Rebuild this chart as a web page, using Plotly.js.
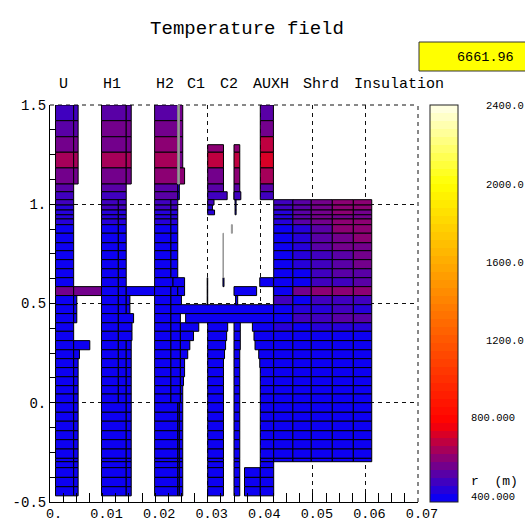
<!DOCTYPE html>
<html><head><meta charset="utf-8">
<script src="https://cdn.plot.ly/plotly-3.0.1.min.js"></script>
<style>html,body{margin:0;padding:0;background:#fff}#chart{width:525px;height:524px}</style>
</head><body><div id="chart"></div>
<script>
// row edges of the mesh, metres (top to bottom)
const rowEdges=[1.5,1.421,1.34,1.262,1.183,1.102,1.063,1.023,.996,.971,.947,.926,.897,.854,.806,.766,.721,.675,.63,.585,.54,.494,.449,.403,.36,.313,.267,.222,.177,.131,.086,.044,0,-.048,-.093,-.141,-.186,-.233,-.28,-.297,-.327,-.376,-.423,-.469];
const uTop=[494,557,596,650,596,541,510,486,478,463,455,440];
const h1Top=[533,565,596,643,596,541,518,494,486,471,463,440];
const h2Top=[557,580,604,650,604,557,525,490,480,470,460,440];
const auxTop=[541,573,682,730,650,557,494];
const c1Top=[700,595,540,510,490,460,440];
const c2Top=[680,600,541,510];
const ins1=[494,486,478,471,455,400,400,400,400,400,400,400,431,510,400,431,463,400,400,400];
const ins2=[557,549,541,533,525,478,471,463,455,447,439,431,588,439,447,486,400,400];
const ins3=[596,588,580,573,573,557,557,533,518,510,502,486,604,486,478,518,447,400];
const ins4=[612,604,604,596,604,612,588,573,557,541,533,510,625,510,494,533,455,400];
const ins5=[604,604,596,596,604,604,604,596,580,565,557,533,615,494,478,525,455,424];
const insX=[.04255,.0462,.0497,.0537,.0577,.0612];
const topLabels=["U","H1","H2","C1","C2","AUXH","Shrd","Insulation"];
const topLabelX=[.00257,.0117,.02196,.02785,.03413,.0421,.0516,.0663];
const scaleVals=[2400,2000,1600,1200,800,400];
const scaleText=["2400.0","2000.0","1600.0","1200.0","800.000","400.000"];
const xTicks=[0,.01,.02,.03,.04,.05,.06,.07];
const xTickText=["0.","0.01","0.02","0.03","0.04","0.05","0.06","0.07"];
const yTicks=[-.5,0,.5,1,1.5];
const yTickText=["-0.5","0.","0.5","1.","1.5"];

const X0=[],X1=[],Y0=[],Y1=[],T=[];
function cell(x0,x1,yTop,yBot,t){X0.push(x0);X1.push(x1);Y0.push(yBot);Y1.push(yTop);T.push(t);}
function band(x0,x1,first,temps){temps.forEach((t,i)=>cell(x0,x1,rowEdges[first+i],rowEdges[first+i+1],t));}
function span(x0,x1,first,last,t){for(let r=first;r<=last;r++)cell(x0,x1,rowEdges[r],rowEdges[r+1],t);}

// U
band(.00105,.0045,0,uTop); span(.00105,.0045,12,18,400); span(.00105,.0045,19,19,570); span(.00105,.0045,20,42,400);
band(.0045,.00535,0,uTop.slice(0,5));
span(.0045,.0051,20,22,400); span(.0045,.00757,25,25,400); span(.0045,.0056,26,26,400); span(.0045,.00535,27,42,400);
span(.0045,.0098,19,19,565);
// H1
band(.0098,.0145,0,h1Top.slice(0,7));
band(.0098,.013,7,h1Top.slice(7)); band(.013,.0145,7,h1Top.slice(7));
span(.0098,.013,12,18,400); span(.013,.0145,12,18,400);
span(.0098,.013,19,19,431); span(.013,.0145,19,19,431); span(.0145,.0199,19,19,431);
band(.0145,.01545,0,h1Top.slice(0,5));
span(.0098,.013,20,31,400);
span(.013,.0145,20,21,400); span(.0145,.0152,20,21,400); span(.013,.0159,22,22,400);
span(.013,.0156,23,24,400); span(.013,.0145,25,31,400); span(.0145,.01545,25,31,400);
span(.0098,.0145,32,42,400); span(.0145,.01545,32,42,400);
// H2
band(.0199,.0243,0,h2Top.slice(0,7));
band(.0199,.023,7,h2Top.slice(7)); band(.023,.0243,7,h2Top.slice(7));
span(.0199,.023,12,17,400); span(.023,.0243,12,17,400);
span(.0246,.02525,0,3,596); span(.0246,.0256,4,4,604); span(.0243,.0246,5,6,400);
span(.0199,.0234,18,18,400); span(.0234,.0256,18,18,400);
span(.0199,.023,19,20,400); span(.023,.0243,19,19,400); span(.0243,.0256,19,19,400); span(.023,.025,20,20,400);
span(.0199,.023,21,31,400); span(.023,.0248,22,31,400);
span(.0248,.0283,23,23,400); span(.0248,.0273,24,24,400); span(.0248,.0266,25,25,400); span(.0248,.0262,26,26,400);
span(.0248,.0256,27,28,400); span(.0248,.0254,29,29,400); span(.0248,.02525,30,31,400);
span(.0199,.0243,32,42,400); span(.0243,.0246,32,42,400); span(.0246,.02525,32,42,400);
span(.023,.04255,21,21,400); span(.0258,.04255,22,22,400);
// C1
cell(.03,.033,1.3,1.262,600); band(.03,.033,3,c1Top.slice(0,3)); span(.03,.0337,6,6,510);
span(.03,.0312,7,7,490); span(.03,.0309,8,8,460); span(.03,.0313,9,9,440);
span(.03,.0338,23,23,400); span(.03,.0336,24,24,400); span(.03,.0334,25,25,400); span(.03,.0332,26,26,400); span(.03,.033,27,42,400);
span(.0299,.03,18,20,400); span(.0329,.0331,18,18,400);
// C2
cell(.035,.0361,1.3,1.262,600); band(.035,.0361,3,c2Top); span(.035,.0363,6,6,510);
span(.0352,.0354,7,9,400); span(.035,.0393,19,19,431); span(.0353,.0357,20,20,400);
span(.035,.0362,23,25,400); span(.035,.0361,26,42,400);
// AUXH
band(.04,.0425,0,auxTop); span(.0399,.0425,18,18,431); span(.0425,.04255,19,20,400);
span(.0385,.04255,23,23,400); span(.0388,.04255,24,24,400); span(.039,.04255,25,25,400); span(.0397,.04255,26,26,400);
span(.0399,.04255,27,27,400); span(.04,.04255,28,39,400);
span(.037,.04,40,42,400); span(.04,.04255,40,42,400);
// Insulation
[ins1,ins2,ins3,ins4,ins5].forEach((c,i)=>{band(insX[i],insX[i+1],7,c); span(insX[i],insX[i+1],7+c.length,38,400);});

// thin grey mesh pieces
const greyX0=[.0243,.0329,.0345], greyX1=[.0246,.033,.0347], greyTop=[1.5,.854,.897], greyBot=[1.102,.63,.854];

const steps=50, stops=[];
function col(v){ // v in temperature
  let r,g,b;
  if(v<=800){r=(v-400)/400*255;g=0;b=255-r;}
  else if(v<=2000){r=255;g=(v-800)/1200*255;b=0;}
  else {r=255;g=255;b=(v-2000)/400*235;}
  return `rgb(${Math.round(r)},${Math.round(g)},${Math.round(b)})`;
}
for(let i=0;i<steps;i++){const c=col(400+2000*(i+0.5)/steps);stops.push([i/steps,c],[(i+1)/steps,c]);}

const W=525,H=524,L=50,R=418,TOP=105,BOT=502;
const px=x=>(x-L)/(R-L), py=y=>(BOT-y)/(BOT-TOP);
const font={family:'"Liberation Mono",monospace',color:'#000'};
const annotations=[];
topLabels.forEach((t,i)=>annotations.push({x:topLabelX[i],xref:'x',y:py(85),yref:'paper',text:t,showarrow:false,font:{...font,size:15},xanchor:'center',yanchor:'middle'}));
const labelLeft=[484,484,484,484,469,469], labelY=[106,185,263,341,418,497];
scaleText.forEach((t,i)=>annotations.push({x:px(labelLeft[i]),xref:'paper',y:py(labelY[i]),yref:'paper',text:t,showarrow:false,font:{...font,size:10.5},xanchor:'left',yanchor:'middle'}));
annotations.push({x:px(469),xref:'paper',y:py(481),yref:'paper',text:'r  (m)',showarrow:false,font:{...font,size:13},xanchor:'left',yanchor:'middle'});
annotations.push({x:px(516),xref:'paper',y:py(57.5),yref:'paper',text:'6661.96',showarrow:false,font:{...font,size:13.5},xanchor:'right',yanchor:'middle'});

const shapes=[
  {type:'rect',xref:'paper',yref:'paper',x0:px(419),x1:px(530),y0:py(71),y1:py(42),fillcolor:'#ffff00',line:{color:'#333',width:1},layer:'above'},
  {type:'line',xref:'paper',yref:'paper',x0:0,x1:1,y0:1,y1:1,line:{color:'#111',width:1,dash:'4px,4px'},layer:'below'},
  {type:'line',xref:'paper',yref:'paper',x0:1,x1:1,y0:0,y1:1,line:{color:'#111',width:1,dash:'4px,4px'},layer:'below'}
];

const traces=[{
  type:'bar',orientation:'h',hoverinfo:'skip',
  y:Y0.map((v,i)=>(v+Y1[i])/2),width:Y0.map((v,i)=>Y1[i]-v),
  base:X0,x:X1.map((v,i)=>v-X0[i]),
  marker:{color:T,cmin:400,cmax:2400,colorscale:stops,showscale:true,line:{color:'#000',width:1},
    colorbar:{x:px(430),xanchor:'left',y:1,yanchor:'top',len:1,lenmode:'fraction',thickness:28,thicknessmode:'pixels',xpad:0,ypad:0,
      outlinecolor:'#222',outlinewidth:1,ticks:'',showticklabels:false,tickvals:scaleVals}}
},{
  type:'bar',orientation:'h',hoverinfo:'skip',
  y:greyTop.map((v,i)=>(v+greyBot[i])/2),width:greyTop.map((v,i)=>v-greyBot[i]),
  base:greyX0,x:greyX1.map((v,i)=>v-greyX0[i]),
  marker:{color:'#999',line:{color:'#999',width:1}}
}];
const grid={showgrid:true,gridcolor:'#111',griddash:'4px,4px',gridwidth:1,showline:true,linecolor:'#000',linewidth:1,zeroline:false,tickcolor:'#000',tickwidth:1,ticks:'inside',tickmode:'array'};
const layout={
  width:W,height:H,paper_bgcolor:'#fff',plot_bgcolor:'#fff',showlegend:false,barmode:'overlay',bargap:0,
  margin:{l:L,r:W-R,t:TOP,b:H-BOT,pad:0},
  title:{text:'Temperature field',x:247/W,xanchor:'center',y:1-27/H,yanchor:'middle',font:{...font,size:19}},
  xaxis:{...grid,tickfont:{...font,size:13.5},range:[0,.07],tickvals:xTicks,ticktext:xTickText,ticklen:9,ticklabelshift:4,ticklabelstandoff:-1,
    minor:{dtick:.0025,tick0:0,ticks:'inside',ticklen:9,tickcolor:'#000',tickwidth:1,showgrid:false}},
  yaxis:{...grid,tickfont:{...font,size:14},range:[-.5,1.5],tickvals:yTicks,ticktext:yTickText,ticklen:6,
    minor:{dtick:.125,tick0:-.5,ticks:'inside',ticklen:6,tickcolor:'#000',tickwidth:1,showgrid:false}},
  annotations,shapes
};
Plotly.newPlot('chart',traces,layout,{displayModeBar:false,staticPlot:true});
</script></body></html>
